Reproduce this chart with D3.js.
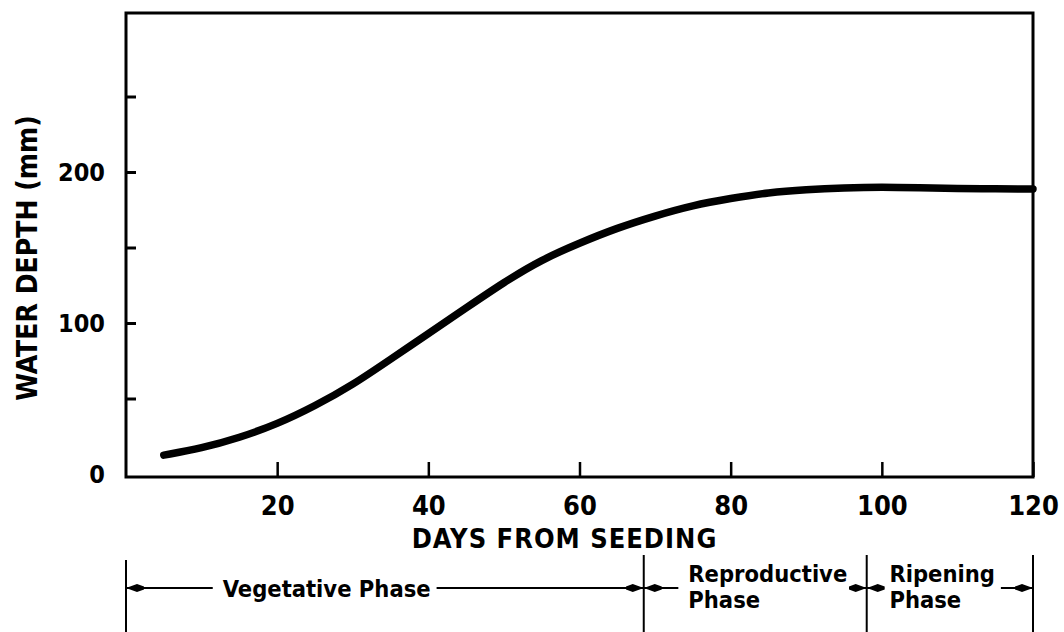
<!DOCTYPE html>
<html>
<head>
<meta charset="utf-8">
<script src="https://cdn.jsdelivr.net/npm/d3@7"></script>
<style>
    html, body { margin: 0; padding: 0; background: #fff; }
    svg { display: block; }
    text { font-family: "DejaVu Sans Condensed", "DejaVu Sans", sans-serif; font-stretch: condensed; fill: #000; }
</style>
</head>
<body>
<div id="chart"></div>
<script>
// values
const days = [5, 10, 15, 20, 25, 30, 35, 40, 45, 50, 55, 60, 65, 70, 75, 80, 85, 90, 95, 100, 105, 110, 115, 120];
const waterDepth = [12.5, 17, 24, 33, 45, 59, 76, 93, 110, 127, 142, 153, 163, 171, 178, 182.5, 186.5, 188.4, 189.5, 190, 189.5, 189, 189, 188.7];
const xTickValues = [20, 40, 60, 80, 100, 120];
const yTickValues = [0, 50, 100, 150, 200, 250];
const yLabelValues = [0, 100, 200];
const phaseNames = [["Vegetative Phase"], ["Reproductive", "Phase"], ["Ripening", "Phase"]];
const phaseBounds = [0, 68.5, 98, 120];   // days

document.addEventListener('DOMContentLoaded', function() {
    const width = 1064, height = 632;
    const frameTop = 13, frameBottom = 477;
    const arrowY = 588;
    const labelStartDay = [12.8, 74.4, 101];

    const svg = d3.select("#chart")
        .append("svg")
        .attr("width", width)
        .attr("height", height);

    const x = d3.scaleLinear().domain([0, 120]).range([126, 1033]);
    const y = d3.scaleLinear().domain([0, 300]).range([474, 21]);

    // arrowhead for the phase bar
    svg.append("defs").append("marker")
        .attr("id", "arrow")
        .attr("viewBox", "0 -5 18 10")
        .attr("refX", 18).attr("refY", 0)
        .attr("markerWidth", 18).attr("markerHeight", 10)
        .attr("markerUnits", "userSpaceOnUse")
        .attr("orient", "auto")
        .append("path")
        .attr("d", "M0,-1.5L7,-4L18,0L7,4L0,1.5Z")
        .attr("fill", "#000");

    // frame
    svg.append("rect")
        .attr("x", x(0)).attr("y", frameTop)
        .attr("width", x(120) - x(0)).attr("height", frameBottom - frameTop)
        .attr("fill", "none").attr("stroke", "#000").attr("stroke-width", 3);

    // x axis, ticks pointing inward
    const xAxis = svg.append("g")
        .attr("transform", `translate(0,${frameBottom})`)
        .call(d3.axisBottom(x).tickValues(xTickValues).tickSizeInner(-15).tickSizeOuter(0).tickPadding(19));
    xAxis.select(".domain").remove();
    xAxis.selectAll("line").attr("stroke", "#000").attr("stroke-width", 2.5);
    xAxis.selectAll("text")
        .attr("font-size", 27).attr("font-weight", "bold").attr("fill", "#000");

    // y axis
    const yAxis = svg.append("g")
        .attr("transform", `translate(${x(0)},0)`)
        .call(d3.axisLeft(y).tickValues(yTickValues).tickSizeInner(-10).tickSizeOuter(0).tickPadding(21)
            .tickFormat(d => yLabelValues.includes(d) ? d : ""));
    yAxis.select(".domain").remove();
    yAxis.selectAll(".tick").filter(d => d === 0).select("line").remove();
    yAxis.selectAll("line").attr("stroke", "#000").attr("stroke-width", 3);
    yAxis.selectAll("text")
        .attr("font-size", 25).attr("font-weight", "bold").attr("fill", "#000");

    // axis titles
    svg.append("text")
        .attr("x", (x(0) + x(120)) / 2 - 15).attr("y", 548)
        .attr("text-anchor", "middle")
        .attr("font-size", 27).attr("font-weight", "bold")
        .attr("letter-spacing", 1)
        .text("DAYS FROM SEEDING");

    svg.append("text")
        .attr("transform", "translate(37,258) rotate(-90)")
        .attr("text-anchor", "middle")
        .attr("font-size", 28).attr("font-weight", "bold")
        .text("WATER DEPTH (mm)");

    // the curve
    const line = d3.line()
        .x((d, i) => x(days[i]))
        .y(d => y(d))
        .curve(d3.curveBasis);

    svg.append("path")
        .datum(waterDepth)
        .attr("d", line)
        .attr("fill", "none")
        .attr("stroke", "#000")
        .attr("stroke-width", 7.5)
        .attr("stroke-linecap", "round");

    // phase bar below the axis
    svg.selectAll(".phase-bound")
        .data(phaseBounds)
        .enter().append("line")
        .attr("class", "phase-bound")
        .attr("x1", d => x(d)).attr("x2", d => x(d))
        .attr("y1", (d, i) => i === 0 ? 560 : 555).attr("y2", height + 5)
        .attr("stroke", "#000").attr("stroke-width", 2);

    phaseNames.forEach((lines, i) => {
        const tx = x(labelStartDay[i]);
        const baselines = lines.length === 1 ? [arrowY + 9] : [arrowY - 6, arrowY + 20];
        let maxLen = 0;
        lines.forEach((t, j) => {
            const node = svg.append("text")
                .attr("x", tx).attr("y", baselines[j])
                .attr("font-size", 23.5).attr("font-weight", "bold")
                .text(t).node();
            maxLen = Math.max(maxLen, node.getComputedTextLength());
        });
        // left arrow to the start of the phase, right arrow to its end
        svg.append("line")
            .attr("x1", tx - 10).attr("x2", x(phaseBounds[i]))
            .attr("y1", arrowY).attr("y2", arrowY)
            .attr("stroke", "#000").attr("stroke-width", 2)
            .attr("marker-end", "url(#arrow)");
        svg.append("line")
            .attr("x1", tx + maxLen + 6).attr("x2", x(phaseBounds[i + 1]))
            .attr("y1", arrowY).attr("y2", arrowY)
            .attr("stroke", "#000").attr("stroke-width", 2)
            .attr("marker-end", "url(#arrow)");
    });
});
</script>
</body>
</html>
